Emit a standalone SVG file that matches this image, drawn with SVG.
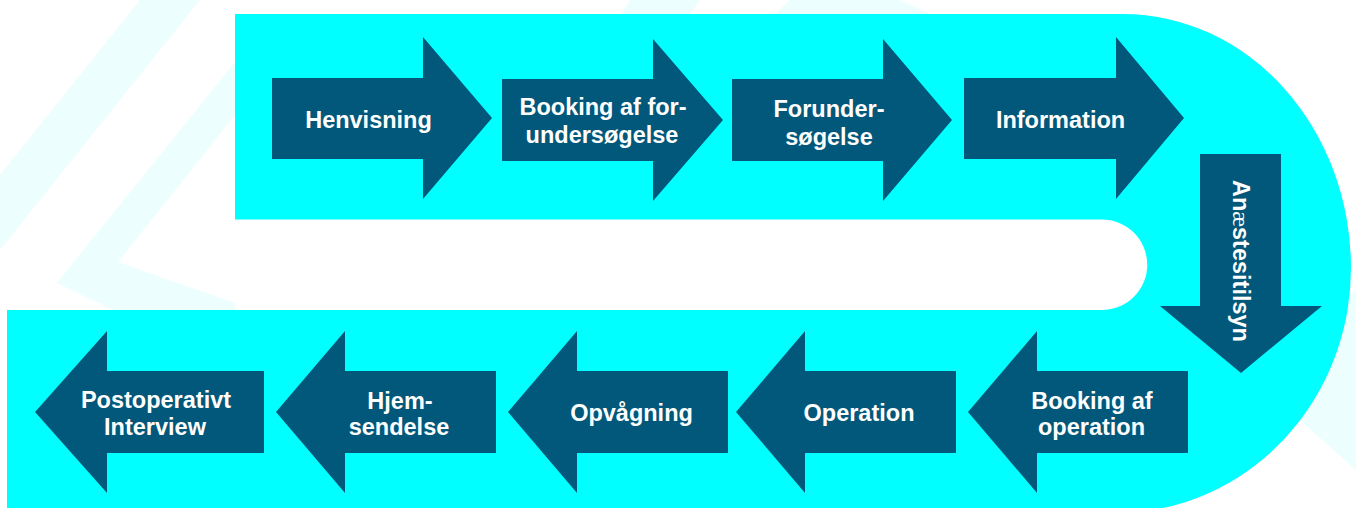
<svg xmlns="http://www.w3.org/2000/svg" width="1356" height="508" viewBox="0 0 1356 508">
<style>
.wm{fill:#edfefe;}
.band{fill:#00ffff;}
.arr{fill:#02587a;}
.lbl{font-family:"Liberation Sans",Arial,sans-serif;font-weight:bold;font-size:23.5px;fill:#ffffff;text-anchor:middle;}
</style>
<rect width="1356" height="508" fill="#ffffff"/>
<g id="watermark">
<polygon class="wm" points="0,175 140,0 200,0 0,250"/>
<polygon class="wm" points="57,283 235,62 235,115 118,262 235,303 235,318 130,318"/>
<polygon class="wm" points="630,0 700,0 690,14 622,14"/>
<polygon class="wm" points="790,0 900,0 930,14 775,14"/>
<polygon class="wm" points="1356,290 1356,470 1300,420 1340,300"/>
</g>
<g id="track">
<path class="band" d="M235,14 H1123 A228,254 0 0 1 1351,268 A235,245 0 0 1 1163,508 H7 V310 H1102 A44.5,44.5 0 0 0 1102,219.5 H235 Z"/>
</g>
<g id="connectors"></g>
<g id="henvisning">
<path class="arr" d="M272,78 H423 V37 L492,118 L423,199 V159 H272 Z"/>
<text class="lbl" x="368.5" y="128">Henvisning</text>
</g>
<g id="booking-forundersoegelse">
<path class="arr" d="M502,79 H653 V39 L723,120 L653,201 V161 H502 Z"/>
<text class="lbl" x="603" y="114.5">Booking af for-</text>
<text class="lbl" x="602" y="142.5">undersøgelse</text>
</g>
<g id="forundersoegelse">
<path class="arr" d="M732,79 H883 V39 L952,120 L883,201 V161 H732 Z"/>
<text class="lbl" x="829" y="117">Forunder-</text>
<text class="lbl" x="829" y="145">søgelse</text>
</g>
<g id="information">
<path class="arr" d="M964,78 H1116 V37 L1184,118 L1116,199 V159 H964 Z"/>
<text class="lbl" x="1060.5" y="128">Information</text>
</g>
<g id="anaestesitilsyn">
<path class="arr" d="M1200,154 H1281 V306 H1322 L1241,373 L1160,306 H1200 Z"/>
<text class="lbl" transform="translate(1233,261) rotate(90)" x="0" y="0">An<tspan style="font-family:'Liberation Serif',serif;font-weight:normal">æ</tspan>stesitilsyn</text>
</g>
<g id="booking-operation">
<path class="arr" d="M968,412 L1037,331 V371 H1188 V453 H1037 V493 Z"/>
<text class="lbl" x="1092" y="409">Booking af</text>
<text class="lbl" x="1091.5" y="435">operation</text>
</g>
<g id="operation">
<path class="arr" d="M736,412 L805,331 V371 H956 V453 H805 V493 Z"/>
<text class="lbl" x="859" y="421">Operation</text>
</g>
<g id="opvaagning">
<path class="arr" d="M508,412 L577,331 V371 H728 V453 H577 V493 Z"/>
<text class="lbl" x="631.5" y="421">Opvågning</text>
</g>
<g id="hjemsendelse">
<path class="arr" d="M276,412 L345,331 V371 H496 V453 H345 V493 Z"/>
<text class="lbl" x="400" y="409">Hjem-</text>
<text class="lbl" x="399" y="435">sendelse</text>
</g>
<g id="postoperativt-interview">
<path class="arr" d="M35,412 L107,331 V371 H264 V453 H107 V493 Z"/>
<text class="lbl" x="156" y="408">Postoperativt</text>
<text class="lbl" x="155" y="435">Interview</text>
</g>
</svg>
